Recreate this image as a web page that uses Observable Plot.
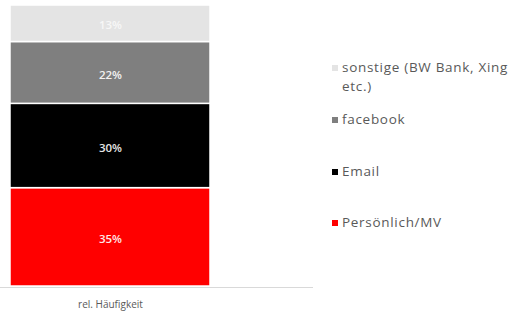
<!DOCTYPE html>
<html>
<head>
<meta charset="utf-8">
<script src="https://cdn.jsdelivr.net/npm/d3@7"></script>
<script src="https://cdn.jsdelivr.net/npm/@observablehq/plot@0.6"></script>
<style>
  html, body { margin: 0; padding: 0; background: #fff; }
  #wrap { position: relative; width: 520px; height: 316px; overflow: hidden; font-family: "Open Sans", sans-serif; }
  #chart { position: absolute; left: 0; top: 0; }
  #legend { position: absolute; left: 332px; top: 58px; width: 182px; color: #595959; font-size: 13.5px; letter-spacing: 0.7px; }
  .item { position: relative; padding-left: 10px; line-height: 19px; }
  .sw { position: absolute; left: 0; top: 7px; width: 6px; height: 6px; }
</style>
</head>
<body>
<div id="wrap">
  <div id="chart"></div>
  <div id="legend"></div>
</div>
<script>
const categories = ["Persönlich/MV", "Email", "facebook", "sonstige (BW Bank, Xing etc.)"];
const values = [35, 30, 22, 13];
const colors = ["#ff0000", "#000000", "#7f7f7f", "#e4e4e4"];
const labelColors = ["#ffe8e8", "#e6e6e6", "#f2f2f2", "#f7f7f7"];
const xLabel = "rel. Häufigkeit";

const data = categories.map((c, i) => ({ x: xLabel, cat: c, value: values[i] }));

const plot = Plot.plot({
  width: 320,
  height: 316,
  marginTop: 5,
  marginBottom: 30,
  marginLeft: 0,
  marginRight: 7,
  style: { fontFamily: "Open Sans, sans-serif", background: "transparent" },
  x: { domain: [xLabel], paddingInner: 0, paddingOuter: 0.2825, align: 0.0885, label: null },
  y: { domain: [0, 100], axis: null },
  color: { domain: categories, range: colors },
  marks: [
    Plot.barY(data, Plot.stackY({ x: "x", y: "value", fill: "cat", stroke: "#fff", strokeWidth: 1.5 })),
    Plot.text(data, Plot.stackY({ x: "x", y: "value", z: "cat", text: d => d.value + "%", fill: d => labelColors[categories.indexOf(d.cat)], fontSize: 11.5, fontWeight: 600, dy: 2 })),
    Plot.ruleY([0], { stroke: "#d9d9d9", strokeWidth: 1, dy: 1 }),
    Plot.axisX({ tickSize: 0, tickPadding: 14, fontSize: 10, fill: "#595959", label: null })
  ]
});
document.getElementById("chart").appendChild(plot);

// legend, top item = top of stack
const legend = document.getElementById("legend");
const gaps = [14, 33, 32];
for (let k = categories.length - 1, n = 0; k >= 0; k--, n++) {
  const it = document.createElement("div");
  it.className = "item";
  if (n > 0) it.style.marginTop = gaps[n - 1] + "px";
  const sw = document.createElement("span");
  sw.className = "sw";
  sw.style.background = colors[k];
  it.appendChild(sw);
  it.appendChild(document.createTextNode(categories[k]));
  legend.appendChild(it);
}
</script>
</body>
</html>
